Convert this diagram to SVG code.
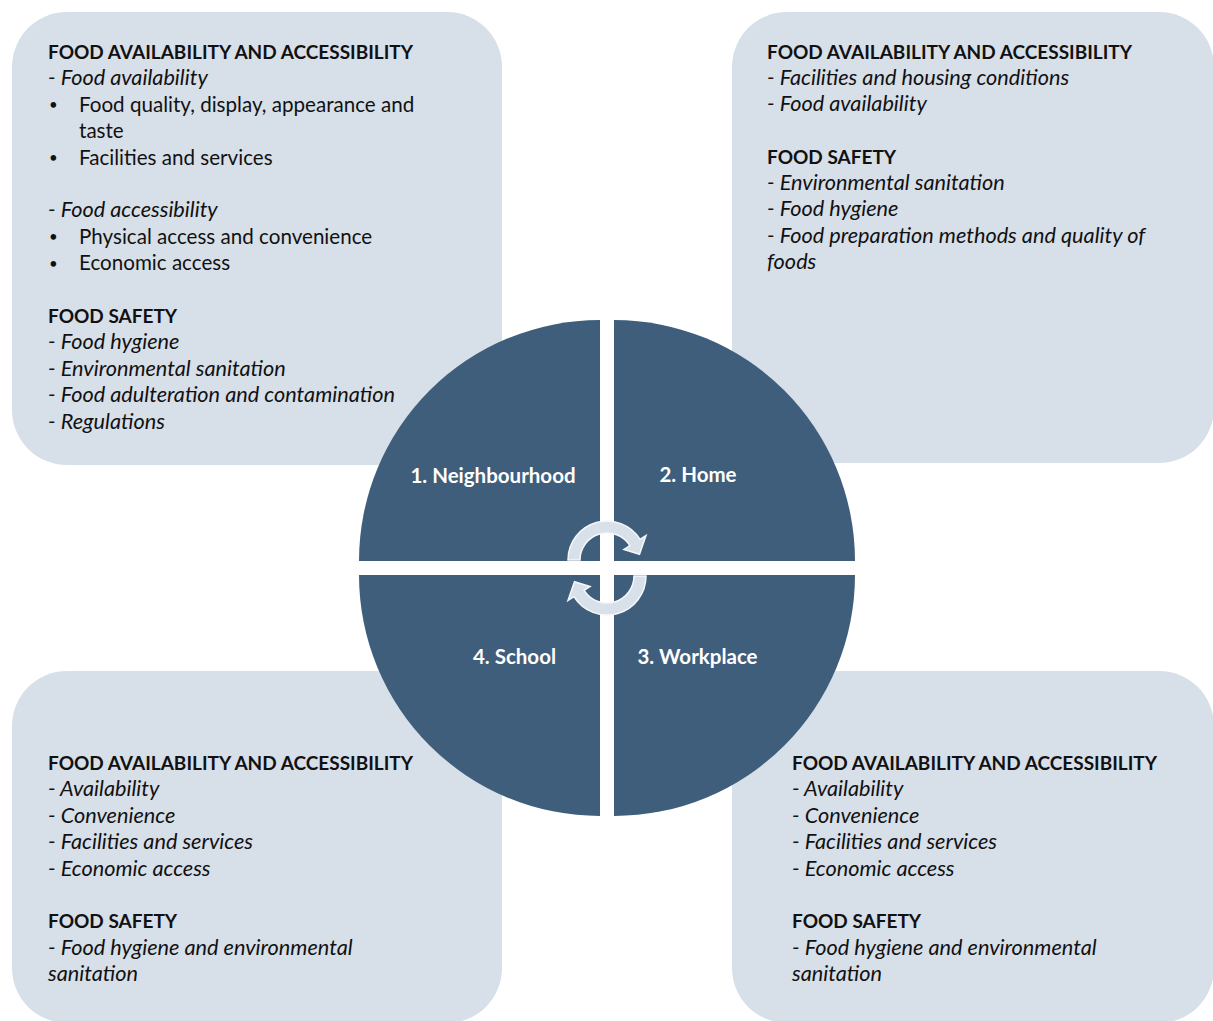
<svg xmlns="http://www.w3.org/2000/svg" width="1213" height="1021" viewBox="0 0 1213 1021">
<style>
.box{fill:#D7DFE9;}
.q{fill:#3F5E7B;}
.t{font-family:Lato,"Open Sans","Liberation Sans",sans-serif;font-size:20.6px;fill:#111;}
.b{font-weight:bold;font-size:19px;}
.i{font-style:italic;font-size:21.7px;}
.bul{font-size:15px;}
.lbl{font-family:Lato,"Open Sans","Liberation Sans",sans-serif;font-size:20.5px;font-weight:bold;fill:#fff;}
.arr{fill:#D8E0EA;stroke:#F5F7FA;stroke-width:1.5;}
</style>
<rect width="1213" height="1021" fill="#fff"/>
<g id="box-neighbourhood">
<rect class="box" x="12" y="12" width="490" height="453" rx="55"/>
<text class="t b" x="48" y="59">FOOD AVAILABILITY AND ACCESSIBILITY</text>
<text class="t i" x="48" y="85.4">- Food availability</text>
<text class="t bul" x="49" y="110">•</text><text class="t" x="79" y="111.8">Food quality, display, appearance and</text>
<text class="t" x="79" y="138.2">taste</text>
<text class="t bul" x="49" y="163">•</text><text class="t" x="79" y="164.6">Facilities and services</text>
<text class="t i" x="48" y="217.4">- Food accessibility</text>
<text class="t bul" x="49" y="242">•</text><text class="t" x="79" y="243.8">Physical access and convenience</text>
<text class="t bul" x="49" y="268.5">•</text><text class="t" x="79" y="270.2">Economic access</text>
<text class="t b" x="48" y="323">FOOD SAFETY</text>
<text class="t i" x="48" y="349.4">- Food hygiene</text>
<text class="t i" x="48" y="375.8">- Environmental sanitation</text>
<text class="t i" x="48" y="402.2">- Food adulteration and contamination</text>
<text class="t i" x="48" y="428.6">- Regulations</text>
</g>
<g id="box-home">
<rect class="box" x="732" y="12" width="482" height="451" rx="55"/>
<text class="t b" x="767" y="58.5">FOOD AVAILABILITY AND ACCESSIBILITY</text>
<text class="t i" x="767" y="84.9">- Facilities and housing conditions</text>
<text class="t i" x="767" y="111.3">- Food availability</text>
<text class="t b" x="767" y="163.5">FOOD SAFETY</text>
<text class="t i" x="767" y="189.9">- Environmental sanitation</text>
<text class="t i" x="767" y="216.3">- Food hygiene</text>
<text class="t i" x="767" y="242.7">- Food preparation methods and quality of</text>
<text class="t i" x="767" y="269.1">foods</text>
</g>
<g id="box-school">
<rect class="box" x="12" y="671" width="490" height="352" rx="55"/>
<text class="t b" x="48" y="770">FOOD AVAILABILITY AND ACCESSIBILITY</text>
<text class="t i" x="48" y="796.4">- Availability</text>
<text class="t i" x="48" y="822.8">- Convenience</text>
<text class="t i" x="48" y="849.2">- Facilities and services</text>
<text class="t i" x="48" y="875.6">- Economic access</text>
<text class="t b" x="48" y="928.4">FOOD SAFETY</text>
<text class="t i" x="48" y="954.8">- Food hygiene and environmental</text>
<text class="t i" x="48" y="981.2">sanitation</text>
</g>
<g id="box-workplace">
<rect class="box" x="732" y="671" width="482" height="352" rx="55"/>
<text class="t b" x="792" y="770">FOOD AVAILABILITY AND ACCESSIBILITY</text>
<text class="t i" x="792" y="796.4">- Availability</text>
<text class="t i" x="792" y="822.8">- Convenience</text>
<text class="t i" x="792" y="849.2">- Facilities and services</text>
<text class="t i" x="792" y="875.6">- Economic access</text>
<text class="t b" x="792" y="928.4">FOOD SAFETY</text>
<text class="t i" x="792" y="954.8">- Food hygiene and environmental</text>
<text class="t i" x="792" y="981.2">sanitation</text>
</g>
<circle cx="607" cy="568" r="249" fill="#fff"/>
<g id="q1-neighbourhood">
<path class="q" d="M600,561 L359,561 A241,241 0 0 1 600,320 Z"/>
<text class="lbl" x="493" y="483" text-anchor="middle">1. Neighbourhood</text>
</g>
<g id="q2-home">
<path class="q" d="M614,561 L614,320 A241,241 0 0 1 855,561 Z"/>
<text class="lbl" x="698" y="482" text-anchor="middle">2. Home</text>
</g>
<g id="q3-workplace">
<path class="q" d="M614,575 L855,575 A241,241 0 0 1 614,816 Z"/>
<text class="lbl" x="697.5" y="664" text-anchor="middle">3. Workplace</text>
</g>
<g id="q4-school">
<path class="q" d="M600,575 L600,816 A241,241 0 0 1 359,575 Z"/>
<text class="lbl" x="514.5" y="664" text-anchor="middle">4. School</text>
</g>
<g id="connectors">
<path id="arrow-top" class="arr" d="M568,560 A39,39 0 0 1 640.07,539.33 L646,535.6 L639.5,554.27 L623.96,549.4 L629.9,545.69 A27,27 0 0 0 580,560 Z"/>
<path id="arrow-bottom" class="arr" transform="rotate(180 607 568)" d="M568,560 A39,39 0 0 1 640.07,539.33 L646,535.6 L639.5,554.27 L623.96,549.4 L629.9,545.69 A27,27 0 0 0 580,560 Z"/>
</g>
</svg>
